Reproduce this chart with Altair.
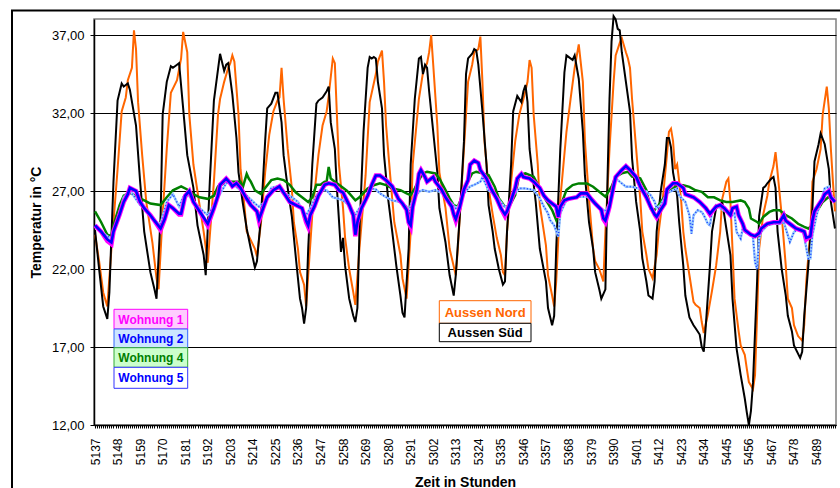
import altair as alt
import pandas as pd

# ---------------- data ----------------
sued_h = [5137,5139,5141,5143,5144,5146,5148,5150,5151,5152,5153,5154,5157,5159,5161,5164,5166,5167,5169,5170,
          5172,5174,5175,5177,5178,5180,5182,5185,5187,5190,5191,5193,5195,5197,5198,5200,5201,5202,5204,5206,
          5207,5209,5211,5213,5215,5216,5218,5220,5221,5223,5225,5226,5228,5229,5231,5233,5235,5237,5238,5239,
          5240,5241,5243,5245,5246,5248,5250,5251,5252,5254,5255,5257,5258,5259,5261,5263,5264,5265,5266,5268,
          5270,5271,5272,5273,5274,5275,5277,5278,5280,5282,5284,5286,5287,5288,5290,5291,5293,5295,5296,5297,
          5298,5299,5300,5302,5304,5305,5308,5310,5312,5313,5315,5317,5318,5319,5321,5322,5323,5324,5326,5328,
          5329,5331,5332,5334,5336,5337,5338,5340,5341,5343,5345,5346,5347,5348,5349,5352,5354,5357,5358,5360,
          5361,5362,5364,5366,5367,5368,5370,5371,5373,5375,5376,5378,5380,5381,5383,5384,5386,5387,5388,5389,
          5390,5391,5392,5393,5394,5396,5398,5399,5401,5403,5404,5406,5407,5409,5410,5411,5413,5415,5416,5417,
          5418,5419,5421,5422,5424,5425,5427,5429,5430,5432,5433,5434,5435,5437,5438,5440,5442,5443,5445,5447,
          5448,5450,5452,5454,5455,5456,5457,5458,5460,5461,5463,5464,5465,5467,5468,5469,5470,5472,5474,5475,
          5477,5478,5481,5482,5483,5485,5487,5488,5490,5491,5493,5495,5496,5498]
sued_t = [24.5,22.0,19.6,18.8,20.5,27.6,32.8,33.9,33.7,33.8,33.9,33.5,31.2,27.6,24.4,21.8,20.7,20.1,25.4,31.9,
          34.0,35.0,34.9,35.1,35.2,32.3,29.3,27.2,24.8,22.9,21.6,27.6,32.8,34.8,35.8,34.7,35.1,35.2,33.2,30.4,
          28.2,26.3,24.6,23.3,22.1,22.5,25.4,30.2,32.3,32.6,33.3,33.3,31.4,29.3,27.2,25.4,22.7,20.1,19.5,18.5,
          19.5,23.3,28.7,32.6,32.8,33.0,33.4,33.7,31.4,29.7,27.2,23.1,24.0,22.2,20.1,19.0,18.6,19.5,24.4,30.8,
          34.9,35.6,35.5,35.6,35.5,34.0,32.3,29.3,26.5,24.4,22.2,20.3,19.2,18.9,23.3,28.7,32.9,35.5,35.6,34.5,
          35.1,34.9,33.4,30.8,28.2,25.9,23.7,21.6,20.3,21.6,25.5,30.2,34.5,35.5,35.8,36.1,36.0,35.1,32.1,28.7,
          26.1,24.4,23.3,22.0,21.0,21.2,24.4,28.7,32.1,33.1,32.7,33.4,33.8,32.7,29.7,26.3,23.3,21.2,19.5,18.4,
          19.0,23.3,29.7,34.6,35.7,35.6,35.4,35.7,34.2,30.8,28.0,25.0,23.3,21.8,20.7,20.1,20.7,27.6,32.9,36.6,
          38.2,38.0,37.4,37.3,35.9,34.0,32.1,29.1,26.3,24.4,22.7,21.2,20.3,20.1,21.2,24.4,27.0,28.7,30.4,30.4,
          29.8,28.2,26.7,25.0,22.2,20.3,18.9,18.4,18.2,17.8,17.0,16.7,18.4,22.2,24.4,25.9,26.1,26.3,24.6,22.9,
          20.1,16.9,15.2,13.7,12.8,12.0,12.9,14.7,21.2,25.4,27.2,27.3,27.5,27.8,27.9,27.2,24.4,22.0,20.3,19.0,
          18.0,17.1,16.3,16.7,19.0,22.2,25.9,28.9,30.0,30.7,30.0,28.4,26.3,24.6]

nord_h = [5137,5139,5141,5143,5145,5148,5150,5152,5153,5155,5156,5157,5158,5160,5162,5165,5167,5168,5170,5172,
          5174,5177,5179,5180,5182,5183,5185,5188,5190,5192,5195,5197,5198,5200,5202,5203,5204,5205,5207,5208,
          5210,5211,5215,5216,5218,5220,5222,5224,5226,5227,5228,5229,5231,5233,5234,5236,5237,5239,5240,5241,
          5243,5246,5248,5250,5251,5253,5254,5255,5256,5258,5259,5261,5263,5264,5266,5269,5271,5274,5275,5277,
          5278,5279,5281,5283,5286,5287,5289,5291,5292,5295,5297,5299,5300,5301,5302,5304,5305,5308,5310,5313,
          5314,5316,5318,5319,5321,5322,5324,5325,5326,5327,5329,5331,5333,5335,5336,5337,5338,5340,5342,5344,
          5346,5348,5349,5350,5351,5353,5354,5357,5358,5360,5361,5362,5364,5367,5369,5371,5373,5375,5376,5378,
          5380,5381,5383,5385,5386,5388,5390,5391,5393,5394,5396,5397,5398,5399,5401,5403,5404,5406,5407,5409,
          5411,5412,5414,5416,5417,5418,5419,5420,5421,5422,5423,5424,5425,5427,5429,5430,5432,5433,5434,5436,
          5438,5440,5442,5443,5445,5446,5447,5448,5449,5451,5452,5454,5455,5456,5458,5459,5460,5461,5463,5465,
          5466,5468,5469,5470,5472,5474,5475,5477,5478,5480,5482,5483,5484,5486,5487,5489,5491,5492,5494,5495,
          5496,5497,5498]
nord_t = [24.2,22.5,20.5,19.6,23.3,28.4,32.1,33.0,34.1,34.9,37.3,36.1,32.7,29.3,26.3,23.7,21.4,20.7,25.5,29.7,
          33.3,34.1,35.5,37.2,35.9,31.9,28.7,26.1,24.4,22.4,27.6,31.9,32.9,34.0,34.9,35.2,35.7,35.3,31.9,28.4,
          25.9,24.4,23.3,22.8,25.0,28.2,30.6,32.1,32.8,33.0,34.9,32.9,29.7,27.2,25.0,23.3,21.8,21.0,19.6,21.6,
          25.5,29.3,31.2,32.1,33.1,35.5,35.2,31.9,28.7,25.9,24.0,22.0,20.5,19.7,23.3,28.0,32.7,34.5,35.3,36.0,
          34.0,31.2,28.0,25.0,22.9,21.4,20.1,24.4,28.7,32.9,34.6,35.2,35.9,37.0,35.1,31.2,28.2,25.9,23.3,21.6,
          23.3,27.6,31.9,34.0,35.1,35.9,36.1,36.9,34.0,30.2,27.2,25.5,24.0,22.9,21.8,21.6,24.4,27.6,30.2,31.9,
          32.9,34.0,35.4,34.9,31.9,28.7,26.1,23.5,21.6,20.3,19.6,21.2,26.5,30.8,32.9,34.9,36.4,34.0,30.2,26.5,
          23.3,22.5,22.0,21.2,24.4,29.7,34.0,35.7,36.5,36.8,35.9,35.5,34.9,32.9,29.7,26.5,24.4,22.9,22.0,21.4,
          22.9,24.4,26.5,29.3,30.8,31.0,30.2,28.4,28.7,27.6,26.3,24.4,23.3,21.6,19.9,19.7,19.5,18.6,17.9,19.1,
          20.6,22.2,24.4,26.5,27.6,27.8,26.3,23.3,20.1,18.0,17.1,16.5,15.6,14.75,14.3,15.2,19.0,23.3,25.5,26.7,
          27.6,28.6,29.5,28.2,25.45,22.2,20.1,19.5,18.4,17.7,17.4,18.4,21.2,24.4,27.6,28.4,29.7,31.9,33.7,32.3,
          29.7,27.6,25.7]

w1_h = [5137,5140,5143,5145,5146,5149,5151,5153,5154,5157,5159,5161,5164,5166,5169,5171,5173,5175,5178,5179,
        5181,5183,5185,5188,5192,5195,5197,5198,5201,5203,5204,5206,5208,5211,5213,5216,5217,5219,5221,5224,
        5227,5229,5232,5235,5238,5240,5241,5242,5244,5246,5249,5251,5254,5256,5258,5261,5263,5264,5265,5267,
        5270,5272,5274,5276,5279,5282,5285,5287,5289,5290,5291,5292,5294,5295,5296,5298,5299,5302,5303,5306,
        5308,5311,5312,5313,5315,5317,5319,5320,5322,5324,5325,5328,5330,5333,5335,5337,5338,5340,5342,5343,
        5345,5346,5349,5351,5354,5356,5358,5360,5362,5363,5364,5366,5368,5372,5374,5377,5379,5381,5384,5385,
        5386,5388,5390,5391,5394,5396,5398,5401,5403,5406,5408,5410,5411,5413,5415,5416,5419,5421,5424,5425,
        5429,5432,5435,5437,5440,5442,5444,5447,5448,5450,5451,5453,5454,5457,5459,5461,5462,5465,5468,5471,
        5473,5474,5477,5479,5483,5484,5486,5487,5488,5490,5492,5493,5495,5496,5498]
w1_t = [24.8,24.4,23.8,23.6,24.4,25.5,26.3,26.8,27.2,27.0,26.3,25.9,25.45,25.1,24.5,25.2,26.1,25.9,25.5,25.5,
        26.7,27.0,26.3,25.7,24.8,25.9,26.7,27.4,27.8,27.5,27.3,27.5,27.2,26.5,26.1,25.7,25.1,25.9,26.6,27.05,
        27.3,26.9,26.3,26.1,25.9,25.0,24.7,25.45,26.0,26.7,27.4,27.5,27.4,27.05,26.9,26.1,25.45,24.1,25.0,25.9,
        26.7,27.4,28.0,28.0,27.7,27.3,26.5,26.2,25.8,25.0,24.7,26.0,27.1,28.1,28.35,27.9,27.6,27.9,27.6,27.1,
        26.6,26.0,25.5,25.1,26.0,27.1,27.7,28.7,28.95,28.8,28.35,27.8,27.2,26.5,25.9,25.4,25.7,26.4,27.2,27.8,
        28.1,27.9,27.8,27.6,27.2,26.7,26.4,26.2,26.0,25.3,26.0,26.4,26.5,26.6,26.85,26.85,26.5,26.2,25.8,25.2,
        25.0,26.0,27.3,27.9,28.35,28.6,28.35,27.9,27.3,26.6,26.0,25.5,25.3,25.8,26.2,27.1,27.5,27.5,27.2,26.8,
        26.6,26.3,25.9,25.5,26.0,26.1,25.9,25.45,25.9,26.0,25.45,24.9,24.5,24.2,24.1,24.3,24.6,24.9,25.0,25.0,
        25.45,25.1,24.8,24.6,24.4,23.9,24.1,25.1,25.7,26.1,26.5,26.8,27.0,26.6,26.3]
w5_t = [24.8,24.4,23.9,23.7,24.4,25.5,26.3,26.8,27.2,27.0,26.3,25.9,25.45,25.1,24.6,25.2,26.1,25.9,25.55,25.55,
        26.7,27.0,26.3,25.7,24.9,25.9,26.7,27.4,27.8,27.5,27.3,27.5,27.2,26.5,26.1,25.7,25.2,25.9,26.6,27.05,
        27.3,26.9,26.3,26.1,25.9,25.1,24.8,25.45,26.0,26.7,27.4,27.5,27.4,27.05,26.9,26.1,25.45,24.2,25.0,25.9,
        26.7,27.4,28.0,28.0,27.7,27.3,26.5,26.2,25.8,25.0,24.8,26.0,27.1,28.1,28.35,27.9,27.6,27.9,27.6,27.1,
        26.6,26.0,25.5,25.2,26.0,27.1,27.7,28.7,28.95,28.8,28.35,27.8,27.2,26.5,25.9,25.5,25.7,26.4,27.2,27.8,
        28.1,27.9,27.8,27.6,27.2,26.7,26.4,26.2,26.0,25.35,26.0,26.4,26.5,26.6,26.85,26.85,26.5,26.2,25.8,25.25,
        25.1,26.0,27.3,27.9,28.35,28.6,28.35,27.9,27.3,26.6,26.0,25.5,25.35,25.8,26.2,27.1,27.5,27.5,27.2,26.8,
        26.6,26.3,25.9,25.55,26.0,26.1,25.9,25.45,25.9,26.0,25.45,24.9,24.5,24.2,24.1,24.3,24.6,24.9,25.0,25.0,
        25.45,25.1,24.8,24.6,24.4,24.0,24.1,25.1,25.7,26.1,26.5,26.8,27.0,26.6,26.3]

w2_h = [5137,5143,5145,5148,5151,5154,5159,5161,5167,5169,5172,5175,5178,5180,5183,5188,5192,5195,5197,5201,
        5203,5208,5211,5215,5217,5220,5223,5226,5229,5232,5236,5239,5240,5242,5245,5247,5250,5253,5256,5258,
        5261,5264,5265,5269,5272,5274,5276,5279,5282,5286,5289,5290,5292,5295,5297,5300,5303,5307,5308,5311,
        5313,5315,5317,5320,5322,5325,5326,5329,5333,5336,5338,5341,5344,5347,5351,5354,5356,5358,5359,5361,
        5363,5364,5367,5370,5373,5377,5380,5383,5386,5388,5390,5391,5394,5396,5399,5402,5406,5408,5410,5411,
        5413,5416,5419,5421,5422,5425,5427,5428,5429,5431,5433,5434,5436,5437,5438,5440,5442,5445,5448,5449,
        5450,5452,5453,5454,5457,5458,5459,5460,5461,5462,5465,5468,5471,5473,5474,5476,5478,5480,5482,5483,
        5485,5486,5487,5489,5491,5493,5495,5496,5498]
w2_t = [24.7,24.1,23.95,25.2,26.6,27.05,26.1,26.0,25.0,24.9,26.3,26.8,26.0,26.6,26.7,25.9,25.45,26.1,26.6,27.5,
        27.6,27.05,26.7,26.2,26.0,26.3,27.2,27.3,26.8,26.7,26.3,25.6,25.45,25.9,26.7,27.05,27.05,26.6,26.5,26.4,
        26.1,25.45,25.7,26.5,27.16,27.1,26.85,26.6,26.4,26.3,26.0,25.7,26.4,26.96,27.06,26.96,27.06,26.85,26.5,26.2,
        25.9,26.1,26.85,27.3,27.4,27.6,27.9,27.06,26.64,26.1,25.9,26.74,27.17,27.17,27.06,26.53,26.0,25.57,25.14,24.8,
        24.07,25.57,26.42,26.53,26.64,26.64,26.42,26.0,25.68,26.21,27.28,27.81,27.49,27.28,27.28,27.17,26.96,26.74,26.32,25.9,
        26.1,26.85,27.06,27.17,26.7,26.3,25.45,24.27,25.45,25.77,25.66,25.45,24.9,24.8,25.66,26.1,25.9,25.66,25.45,25.56,
        24.38,23.95,24.6,24.38,24.17,24.06,22.45,22.0,23.95,24.38,24.8,24.9,24.9,25.02,24.59,23.74,24.38,24.59,24.59,24.06,
        22.67,22.67,24.17,25.45,26.3,27.16,27.27,26.73,26.4]

w4_h = [5137,5140,5143,5145,5146,5149,5151,5154,5158,5161,5164,5169,5172,5175,5179,5182,5185,5188,5192,5195,
        5197,5200,5203,5208,5209,5211,5212,5213,5215,5218,5220,5223,5226,5229,5232,5235,5238,5241,5243,5245,
        5247,5249,5250,5251,5252,5254,5257,5260,5264,5266,5270,5273,5276,5279,5282,5286,5289,5291,5293,5295,
        5297,5299,5303,5305,5308,5310,5312,5314,5316,5318,5321,5323,5326,5329,5332,5334,5337,5339,5342,5344,
        5347,5351,5354,5357,5360,5362,5364,5367,5370,5373,5377,5380,5383,5386,5389,5391,5394,5397,5399,5403,
        5406,5408,5410,5412,5416,5419,5421,5424,5427,5430,5433,5436,5439,5442,5445,5448,5452,5454,5456,5457,
        5460,5461,5463,5466,5468,5471,5474,5477,5480,5483,5485,5487,5488,5490,5492,5495,5496,5498]
w4_t = [25.7,25.0,24.2,24.1,24.8,26.1,26.7,26.9,26.6,26.4,26.2,26.1,26.6,27.05,27.3,27.1,26.8,26.6,26.5,26.7,
        27.3,27.5,27.6,27.6,27.2,28.1,27.8,27.6,27.05,26.8,27.2,27.7,27.8,27.7,27.4,26.9,26.6,26.3,26.6,27.4,
        27.4,27.6,27.6,28.55,27.8,27.6,27.3,27.0,26.4,26.6,27.16,27.37,27.49,27.38,27.17,27.06,26.85,26.74,27.17,27.71,
        28.13,28.24,28.13,27.81,27.06,26.53,26.1,26.0,26.64,27.38,28.13,28.24,28.13,28.03,27.28,26.53,26.0,26.0,26.74,28.03,
        28.13,27.92,27.17,26.42,25.78,25.14,26.0,27.06,27.38,27.49,27.49,27.28,26.96,26.64,27.28,27.92,28.13,28.24,27.92,27.81,
        27.06,25.89,25.78,26.1,26.85,27.17,27.38,27.37,27.27,27.05,26.95,26.6,26.6,26.4,26.3,26.3,26.4,26.3,25.88,25.24,
        25.02,24.9,25.34,25.66,25.77,25.77,25.45,25.24,24.9,24.7,24.6,24.8,25.45,25.88,26.3,26.63,26.5,26.5]

y_ticks = [12, 17, 22, 27, 32, 37]
x_first, x_last, x_step = 5137, 5498, 11
legend_wohnung = ["Wohnung 1", "Wohnung 2", "Wohnung 4", "Wohnung 5"]
legend_aussen = ["Aussen Nord", "Aussen Süd"]

# ---------------- chart ----------------
FONT = "Liberation Sans"
W, H = 742, 406

def df(h, t):
    return pd.DataFrame({"Stunde": h, "T": t})

x_enc = alt.X("Stunde:Q",
              scale=alt.Scale(domain=[x_first - 0.5, x_last + 0.5], nice=False, zero=False),
              axis=alt.Axis(values=list(range(x_first, x_last + 1)), format="d",
                            labelExpr=f"(datum.value - {x_first}) % {x_step} == 0 ? datum.label : ''",
                            labelAngle=-90, labelFontSize=12, labelFont=FONT, labelColor="black",
                            labelOverlap=False, labelFlush=False, labelPadding=10,
                            tickSize=3, tickColor="black", domainColor="black", domainWidth=1.5,
                            grid=False, title="Zeit in Stunden", titleFont=FONT, titleFontSize=14,
                            titleFontWeight="bold", titleColor="black", titleY=61, titleBaseline="alphabetic"))
y_enc = alt.Y("T:Q",
              scale=alt.Scale(domain=[12, 38.03], nice=False, zero=False),
              axis=alt.Axis(values=y_ticks,
                            labelExpr="replace(format(datum.value, '.2f'), '.', ',')",
                            labelFontSize=13, labelFont=FONT, labelColor="black", labelPadding=6,
                            tickSize=4, tickColor="black", domainColor="black", domainWidth=1.5,
                            grid=True, gridColor="black", gridWidth=1,
                            title="Temperatur in °C", titleFont=FONT, titleFontSize=14,
                            titleFontWeight="bold", titleColor="black", titleAngle=-90,
                            titleX=-54, titleY=H / 2, titleAlign="center", titleBaseline="alphabetic"))

def line(data, color, width, dash=None):
    kw = dict(color=color, strokeWidth=width, clip=False)
    if dash:
        kw["strokeDash"] = dash
    return alt.Chart(data).mark_line(**kw).encode(x=x_enc, y=y_enc)

one = pd.DataFrame({"k": [0]})

def box(x1, x2, y1, y2, fill, stroke, label, color, size):
    r = alt.Chart(one).mark_rect(fill=fill, stroke=stroke, strokeWidth=1).encode(
        x=alt.value(x1), x2=alt.value(x2), y=alt.value(y1), y2=alt.value(y2))
    t = alt.Chart(one).mark_text(text=label, font=FONT, fontSize=size, fontWeight="bold",
                                 color=color, align="center", baseline="middle").encode(
        x=alt.value((x1 + x2) / 2), y=alt.value((y1 + y2) / 2 + 0.5))
    return [r, t]

frame = alt.Chart(one).mark_rect(fill="white", fillOpacity=0, stroke="black", strokeWidth=2).encode(
    x=alt.value(-82), x2=alt.value(780), y=alt.value(-8.5), y2=alt.value(500))

layers = [
    line(df(nord_h, nord_t), "#FF6600", 2),
    line(df(sued_h, sued_t), "black", 2),
    line(df(w4_h, w4_t), "#008000", 2.5),
    line(df(w2_h, w2_t), "#99CCFF", 2.5),
    line(df(w2_h, w2_t), "#1a3cff", 1.6, [1, 2.2]),
    line(df(w1_h, w1_t), "#FF00FF", 4.5),
    line(df(w1_h, w5_t), "#0000FF", 2.6),
]

wcols = [("#FFCCFF", "#FF00FF", "#FF00FF"), ("#CCE6FF", "#3366FF", "#0000FF"),
         ("#CCFFCC", "#33AA33", "#008000"), ("white", "#3333FF", "#0000FF")]
ys = [290.3, 310, 328.7, 348.3, 369.3]
for i, lab in enumerate(legend_wohnung):
    f, s, c = wcols[i]
    layers += box(20, 93.7, ys[i], ys[i + 1], f, s, lab, c, 12)
layers += box(345.3, 437, 281.7, 304.3, "white", "#FF6600", legend_aussen[0], "#FF6600", 13)
layers += box(345.3, 437, 304.3, 322.7, "white", "black", legend_aussen[1], "black", 13)
layers.append(frame)

chart = alt.layer(*layers).properties(
    width=W, height=H,
    autosize=alt.AutoSizeParams(type="none"),
    padding={"left": 94, "top": 19, "right": 4, "bottom": 63},
    background="white",
).configure_view(stroke="#808080", strokeWidth=1.5).configure_text(font=FONT)

chart.save("out.html", embed_options={"renderer": "svg", "actions": False})
